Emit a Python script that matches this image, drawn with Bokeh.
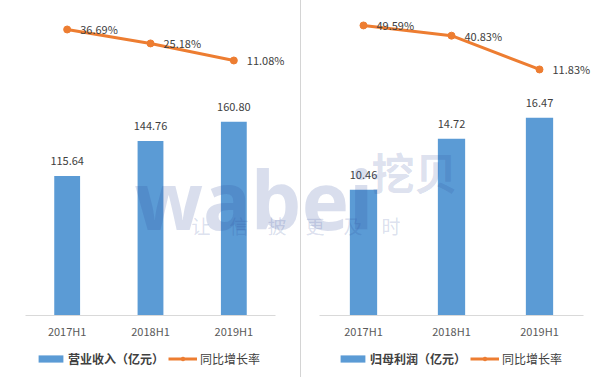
from bokeh.plotting import figure
from bokeh.models import Range1d, FactorRange, Legend, LegendItem, Label, ColumnDataSource, Div
from bokeh.layouts import row
from bokeh.embed import file_html
from bokeh.resources import INLINE
from bokeh.core.properties import value

periods = ["2017H1", "2018H1", "2019H1"]
revenue = [115.64, 144.76, 160.80]
revenue_growth = [36.69, 25.18, 11.08]
profit = [10.46, 14.72, 16.47]
profit_growth = [49.59, 40.83, 11.83]
revenue_name = "营业收入（亿元）"
profit_name = "归母利润（亿元）"
growth_name = "同比增长率"
watermark_main = "wabei"
watermark_cn = "挖贝"
watermark_sub = "让　信　披　更　及　时"

BLUE = "#5B9BD5"
ORANGE = "#ED7D31"
TXT = "#404040"
FONT = "Noto Sans CJK SC"
WM = "#2E4A9A"


def make_panel(width, pad, values, growth, bar_name, k, pct_lo, pct_hi,
               leg_x1, leg_x2, wm_dx):
    # k: bar value units per pixel; baseline sits 62.5 px above the bottom edge
    p = figure(width=width, height=377,
               x_range=FactorRange(*periods, range_padding=pad, range_padding_units="absolute"),
               y_range=Range1d(-62.5 * k, 314.5 * k), output_backend="svg",
               toolbar_location=None,
               min_border_left=0, min_border_right=0, min_border_top=0, min_border_bottom=0)
    p.extra_y_ranges = {"pct": Range1d(pct_lo, pct_hi)}
    p.yaxis.visible = False
    p.xgrid.visible = False
    p.ygrid.visible = False
    p.outline_line_color = None
    p.background_fill_color = "white"
    p.border_fill_color = "white"

    ax = p.xaxis[0]
    ax.fixed_location = 0
    ax.bounds = (0, len(periods))
    ax.axis_line_color = "#D9D9D9"
    ax.axis_line_width = 1
    ax.major_tick_line_color = None
    ax.minor_tick_line_color = None
    ax.major_tick_out = 0
    ax.major_tick_in = 0
    ax.minor_tick_out = 0
    ax.major_label_text_font_size = "11px"
    ax.major_label_text_color = "#595959"
    ax.major_label_text_font = FONT
    ax.major_label_standoff = 8

    src = ColumnDataSource(dict(x=periods, v=values, g=growth,
                                vl=[f"{v:.2f}" for v in values],
                                gl=[f"{g:.2f}%" for g in growth]))
    bars = p.vbar(x="x", top="v", width=0.31, source=src, fill_color=BLUE, line_color=None)
    p.text(x="x", y="v", text="vl", source=src, text_align="center", text_baseline="middle",
           y_offset=-15, text_font_size="11px", text_color=TXT, text_font=value(FONT))

    ln = p.line(x="x", y="g", source=src, y_range_name="pct", line_color=ORANGE, line_width=3)
    sc = p.scatter(x="x", y="g", source=src, y_range_name="pct", size=7,
                   fill_color=ORANGE, line_color=ORANGE)
    p.text(x="x", y="g", text="gl", source=src, y_range_name="pct", text_align="left",
           text_baseline="middle", x_offset=13, text_font_size="11px", text_color=TXT,
           text_font=value(FONT))

    # watermark
    p.add_layout(Label(x=134 + wm_dx, y=179, x_units="screen", y_units="screen",
                       text=watermark_main, text_font="Noto Sans",
                       text_font_style="bold", text_font_size="80px",
                       text_color=WM, text_alpha=0.18, text_baseline="alphabetic"))
    p.add_layout(Label(x=371 + wm_dx, y=207, x_units="screen", y_units="screen",
                       text=watermark_cn, text_font=FONT,
                       text_font_style="bold", text_font_size="43px",
                       text_color=WM, text_alpha=0.18, text_baseline="middle"))
    p.add_layout(Label(x=191 + wm_dx, y=152, x_units="screen", y_units="screen",
                       text=watermark_sub, text_font=FONT,
                       text_font_size="19px",
                       text_color=WM, text_alpha=0.18, text_baseline="middle"))

    leg1 = Legend(items=[LegendItem(label=bar_name, renderers=[bars])], location=(leg_x1, 10),
                  orientation="horizontal", glyph_width=31, glyph_height=9, label_height=9,
                  label_standoff=2, label_text_font_size="12px", label_text_font_style="bold",
                  label_text_font=FONT, label_text_color=TXT, padding=0, margin=0, spacing=0,
                  border_line_color=None, background_fill_alpha=0)
    leg2 = Legend(items=[LegendItem(label=growth_name, renderers=[ln, sc])], location=(leg_x2, 10),
                  orientation="horizontal", glyph_width=29, glyph_height=9, label_height=9,
                  label_standoff=3, label_text_font_size="12px",
                  label_text_font=FONT, label_text_color=TXT, padding=0, margin=0, spacing=0,
                  border_line_color=None, background_fill_alpha=0)
    p.add_layout(leg1, "center")
    p.add_layout(leg2, "center")
    return p


p1 = make_panel(300, 0.3, revenue, revenue_growth, revenue_name, 0.832,
                -250.85, 60.65, 35, 168, 0)
p2 = make_panel(300, 0.2045, profit, profit_growth, profit_name, 0.0835,
                -252.5, 71.0, 36, 169, -301)
sep = Div(width=1, height=377, margin=0, styles={"background-color": "#D4D4D4"})
layout = row(p1, sep, p2, spacing=0)

open("out.html", "w").write(file_html(layout, INLINE))
